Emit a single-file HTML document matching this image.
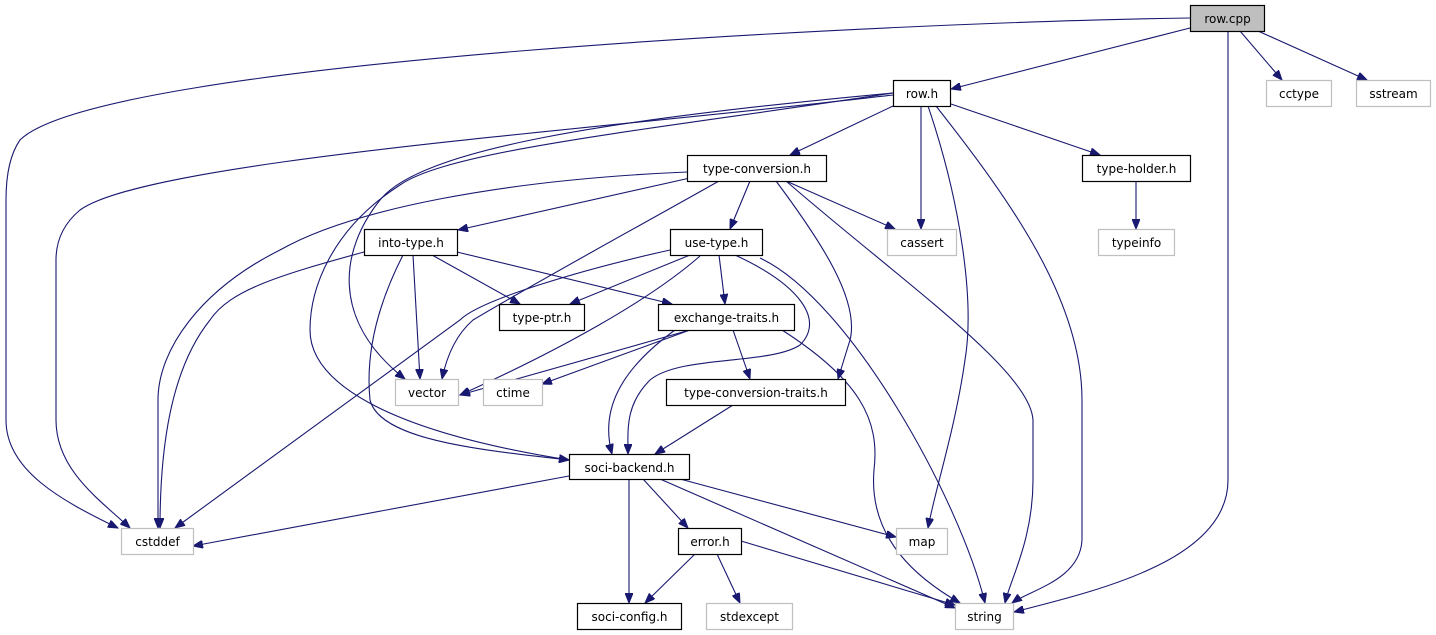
<!DOCTYPE html>
<html><head><meta charset="utf-8"><style>
html,body{margin:0;padding:0;background:#fff;}
svg{display:block;}
text{font-family:"DejaVu Sans","Liberation Sans",sans-serif;font-size:12px;fill:#000;}
.e{fill:none;stroke:#191970;stroke-width:1.1;}
.b{fill:#fff;stroke:#000;stroke-width:1.2;}
.g{fill:#fff;stroke:#bfbfbf;stroke-width:1.2;}
</style></head><body>
<svg width="1436" height="635" viewBox="0 0 1436 635" xmlns="http://www.w3.org/2000/svg">
<defs>
<marker id="a" markerWidth="11" markerHeight="8" refX="10" refY="4" orient="auto" markerUnits="userSpaceOnUse">
<path d="M0,0 L10,4 L0,8 z" fill="#191970" stroke="#191970"/>
</marker>
</defs>
<g class="e" marker-end="url(#a)">
<path d="M1190,18 C900,22 100,60 20,140 Q6,160 6,200 L6,420 C6,470 60,500 118,528"/>
<path d="M1190,28 L951,89"/>
<path d="M1240,31 L1282,80"/>
<path d="M1258,31 L1367,80"/>
<path d="M1228,31 L1228,480 C1228,560 1100,590 1014,612"/>
<path d="M893,106 L790,155"/>
<path d="M921,106 L921,229"/>
<path d="M951,104 L1100,155"/>
<path d="M928,106 C960,200 975,300 965,360 C955,430 935,490 928,528"/>
<path d="M936,106 C1010,200 1082,300 1082,400 L1082,540 C1080,580 1030,590 1012,603"/>
<path d="M893,95 C600,130 150,160 80,210 Q56,230 56,260 L56,420 C56,470 100,500 130,528"/>
<path d="M893,93 C600,120 420,150 380,200 C340,250 330,320 405,379"/>
<path d="M893,93 C650,130 450,150 400,185 C330,230 310,290 310,330 C310,380 380,430 569,460"/>
<path d="M690,178 L458,230"/>
<path d="M750,181 L730,229"/>
<path d="M786,181 L895,229"/>
<path d="M687,172 C500,180 350,210 280,250 C200,290 158,350 158,400 L158,528"/>
<path d="M719,181 C650,220 540,280 473,320 Q450,340 442,379"/>
<path d="M776,181 C820,240 860,300 850,340 L838,379"/>
<path d="M786,181 C900,280 1030,370 1033,420 L1033,480 C1033,540 1010,580 1005,603"/>
<path d="M690,255 L570,304"/>
<path d="M719,255 L725,304"/>
<path d="M700,256 C650,300 560,350 460,395"/>
<path d="M670,250 C580,270 480,300 460,320 L175,528"/>
<path d="M735,255 C800,285 825,320 800,345 C770,365 680,355 650,380 C625,405 628,430 628,454"/>
<path d="M760,258 C850,300 960,500 985,603"/>
<path d="M432,255 L520,304"/>
<path d="M457,252 L672,304"/>
<path d="M413,255 L420,379"/>
<path d="M364,252 C280,275 230,290 210,320 C170,370 160,450 160,528"/>
<path d="M403,255 C380,300 365,350 370,400 C380,440 480,450 569,460"/>
<path d="M690,330 L460,395"/>
<path d="M690,330 L542,384"/>
<path d="M733,330 L750,379"/>
<path d="M675,330 C620,370 600,410 612,454"/>
<path d="M782,330 C860,380 880,420 874,470 C868,540 920,580 960,603"/>
<path d="M733,405 L655,454"/>
<path d="M569,476 L193,546"/>
<path d="M629,479 L629,603"/>
<path d="M643,479 L688,528"/>
<path d="M680,479 L896,537"/>
<path d="M660,479 L955,608"/>
<path d="M695,554 L645,603"/>
<path d="M717,554 L740,603"/>
<path d="M741,541 L955,605"/>
<path d="M1136,181 L1136,229"/>
</g>
<g>
<rect x="1190.5" y="5.5" width="74" height="26" fill="#bfbfbf" stroke="#000" stroke-width="1.2"/><text x="1227.5" y="23" text-anchor="middle">row.cpp</text>
<rect class="b" x="893.5" y="80.5" width="57" height="26"/><text x="922" y="98" text-anchor="middle">row.h</text>
<rect class="g" x="1266.5" y="80.5" width="65" height="26"/><text x="1299" y="98" text-anchor="middle">cctype</text>
<rect class="g" x="1356.5" y="80.5" width="74" height="26"/><text x="1393.5" y="98" text-anchor="middle">sstream</text>
<rect class="b" x="687.5" y="155.5" width="139" height="26"/><text x="757" y="173" text-anchor="middle">type-conversion.h</text>
<rect class="b" x="1082.5" y="155.5" width="108" height="26"/><text x="1136.5" y="173" text-anchor="middle">type-holder.h</text>
<rect class="b" x="364.5" y="229.5" width="93" height="26"/><text x="411" y="247" text-anchor="middle">into-type.h</text>
<rect class="b" x="670.5" y="229.5" width="92" height="26"/><text x="716.5" y="247" text-anchor="middle">use-type.h</text>
<rect class="g" x="887.5" y="229.5" width="69" height="26"/><text x="922" y="247" text-anchor="middle">cassert</text>
<rect class="g" x="1098.5" y="229.5" width="76" height="26"/><text x="1136.5" y="247" text-anchor="middle">typeinfo</text>
<rect class="b" x="499.5" y="304.5" width="85" height="26"/><text x="542" y="322" text-anchor="middle">type-ptr.h</text>
<rect class="b" x="658.5" y="304.5" width="136" height="26"/><text x="726.5" y="322" text-anchor="middle">exchange-traits.h</text>
<rect class="g" x="395.5" y="379.5" width="63" height="26"/><text x="427" y="397" text-anchor="middle">vector</text>
<rect class="g" x="483.5" y="379.5" width="59" height="26"/><text x="513" y="397" text-anchor="middle">ctime</text>
<rect class="b" x="666.5" y="379.5" width="179" height="26"/><text x="756" y="397" text-anchor="middle">type-conversion-traits.h</text>
<rect class="b" x="569.5" y="454.5" width="120" height="25"/><text x="629.5" y="472" text-anchor="middle">soci-backend.h</text>
<rect class="g" x="121.5" y="528.5" width="72" height="26"/><text x="157.5" y="546" text-anchor="middle">cstddef</text>
<rect class="b" x="678.5" y="528.5" width="63" height="26"/><text x="710" y="546" text-anchor="middle">error.h</text>
<rect class="g" x="896.5" y="528.5" width="51" height="26"/><text x="922" y="546" text-anchor="middle">map</text>
<rect class="b" x="577.5" y="603.5" width="104" height="26"/><text x="629.5" y="621" text-anchor="middle">soci-config.h</text>
<rect class="g" x="706.5" y="603.5" width="86" height="26"/><text x="749.5" y="621" text-anchor="middle">stdexcept</text>
<rect class="g" x="955.5" y="603.5" width="58" height="26"/><text x="984.5" y="621" text-anchor="middle">string</text>
</g>
</svg>
</body></html>
